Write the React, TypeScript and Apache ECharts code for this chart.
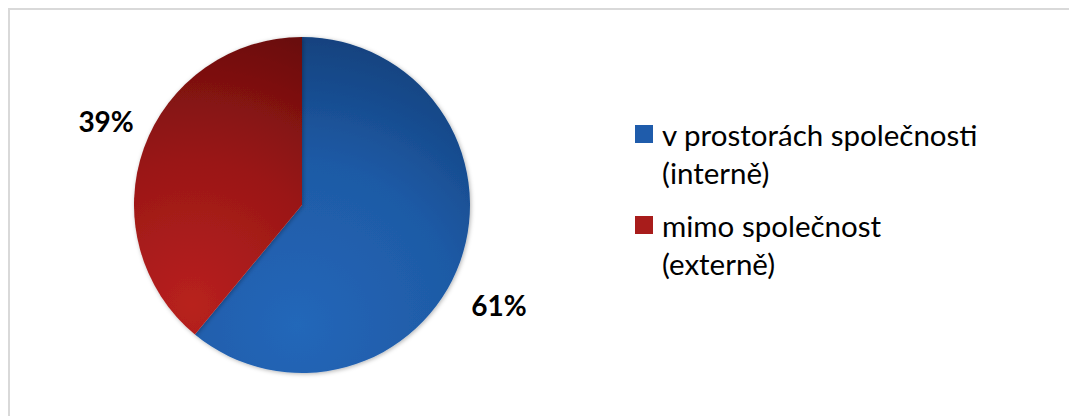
import React, { useEffect, useRef } from "react";
import * as echarts from "echarts";

const categories = ["v prostorách společnosti (interně)", "mimo společnost (externě)"];
const values = [61, 39];
const legendIconColors = ["#1f5cab", "#a81c1b"];

const FONT = "Lato, 'Noto Sans', sans-serif";

export default function App() {
  const ref = useRef<HTMLDivElement>(null);
  useEffect(() => {
    if (!ref.current) return;
    const chart = echarts.init(ref.current, undefined, { renderer: "svg" });
    const cx = 302, cy = 205, r = 168;
    const blueGrad = new echarts.graphic.RadialGradient(cx - 5, cy + 120, 330, [
      { offset: 0, color: "#2467b9" },
      { offset: 0.5, color: "#1e5aa5" },
      { offset: 1, color: "#0f3a72" },
    ], true);
    const redGrad = new echarts.graphic.RadialGradient(cx - 110, cy + 100, 320, [
      { offset: 0, color: "#b8211f" },
      { offset: 0.45, color: "#9a1716" },
      { offset: 1, color: "#5e0a0a" },
    ], true);
    const grads = [blueGrad, redGrad];
    const LH = 38;
    const legendCommon = {
      orient: "vertical" as const,
      left: 635,
      padding: 0,
      itemWidth: 18,
      itemHeight: 18,
      itemGap: 0,
      icon: "rect",
      selectedMode: false,
      formatter: (name: string) => "\n" + name.replace(" (", "\n("),
      textStyle: {
        fontFamily: FONT,
        fontSize: 29.5,
        color: "#000",
        lineHeight: LH,
        padding: [0, 0, 0, 4],
      },
    };
    chart.setOption({
      animation: false,
      backgroundColor: "#fff",
      graphic: [
        {
          type: "rect",
          shape: { x: 9, y: 9, width: 1100, height: 450 },
          style: { fill: "none", stroke: "#d9d9d9", lineWidth: 2 },
          silent: true,
        },
      ],
      legend: [0, 1].map((i) => ({
        ...legendCommon,
        top: (i === 0 ? 134 : 225) - 1.5 * LH,
        data: [{ name: categories[i], itemStyle: { color: legendIconColors[i] } }],
      })),
      series: [
        {
          type: "pie",
          center: [cx, cy],
          radius: r,
          startAngle: 90,
          clockwise: true,
          data: categories.map((c, i) => ({
            name: c,
            value: values[i],
            itemStyle: {
              color: grads[i],
              shadowBlur: 4,
              shadowColor: "rgba(0,0,0,0.3)",
              shadowOffsetX: 1,
              shadowOffsetY: 1,
            },
          })),
          itemStyle: { borderWidth: 0 },
          label: {
            show: true,
            position: "outside",
            formatter: "{c}%",
            fontFamily: FONT,
            fontWeight: "bold",
            fontSize: 28,
            color: "#000",
          },
          labelLine: { show: false, length: 15, length2: 0 },
          labelLayout: (p: any) => {
            const shifts = [
              [-8, 38],
              [9, -22],
            ];
            const s = shifts[p.dataIndex];
            return { dx: s[0], dy: s[1] };
          },
          emphasis: { disabled: true },
        },
      ],
    });
    return () => chart.dispose();
  }, []);
  return (
    <div
      ref={ref}
      style={{ position: "fixed", left: 0, top: 0, width: 1069, height: 416 }}
    />
  );
}
